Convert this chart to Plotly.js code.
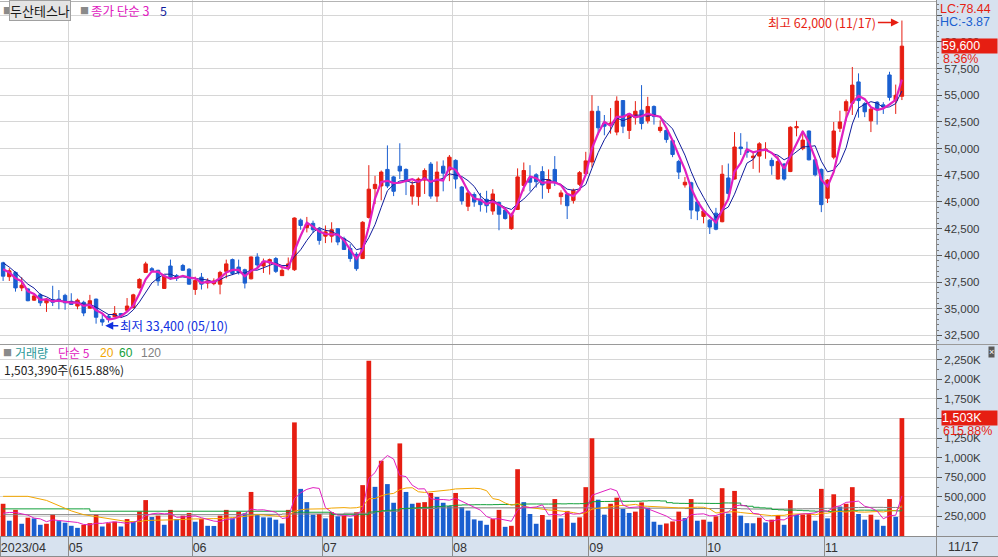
<!DOCTYPE html>
<html><head><meta charset="utf-8">
<script src="https://cdn.plot.ly/plotly-3.0.1.min.js"></script>
<style>html,body{margin:0;padding:0;background:#fff;}#chart{width:998px;height:557px;}</style>
</head><body><div id="chart"></div>
<script>
// ---- data ----
const stockName = '두산테스나';
const monthLabels = ['2023/04','05','06','07','08','09','10','11'];
const monthStart = [0,11,31,52,73,95,114,133];
const lastDateLabel = '11/17';
const hiDateLabel = '11/17';
const loDateLabel = '05/10';

const opens = [39300,38000,38400,36950,36850,35800,36300,35550,35850,35900,
36250,35700,35250,35600,35050,35900,34000,34300,34250,34550,
34850,35100,36950,38400,38750,38600,36900,39000,38100,39050,
38700,36800,37950,37400,37350,37300,38500,39600,38900,38650,
37800,39850,39000,39300,39700,38100,38800,38650,43300,42600,
43000,42450,41800,41800,42500,41550,40650,40100,39700,43550,
46250,46500,48050,47350,48350,48050,45550,45500,47050,48550,
45550,48350,48000,48900,46400,44600,45700,45250,45250,44150,
44950,44250,42500,44300,46550,47250,47550,47850,46250,48050,
45500,45700,45150,46650,47650,48750,53500,52400,52250,51550,
54500,51700,52900,53600,52600,53950,51700,51700,50750,48800,
46600,46800,45000,43650,43300,43950,43150,47250,47150,50150,
49850,49150,49300,49850,48900,47150,48550,47850,51950,50000,
51650,48950,48050,45350,49200,51900,53550,54250,56250,54200,
52600,54350,54100,56900,54500,54900];
const highs = [39400,38800,38500,37950,36950,36450,36450,36000,37150,36750,
36400,36450,35950,35750,36300,35950,34500,34500,35250,34600,
36000,36400,37850,39400,38900,38650,38100,39600,38250,39200,
38800,38000,38350,37850,37850,38550,39600,39700,39600,38750,
39900,40200,39700,39700,39850,38800,39800,43550,43450,43600,
43250,42600,42800,43100,42500,41750,41050,40300,43200,48450,
47450,47950,50300,47450,50500,48150,46950,47300,48150,48750,
48800,48900,49400,49000,46500,46050,45900,45850,46050,46200,
45050,44400,44000,48150,48700,48450,47700,48350,48050,49300,
46100,45800,46250,47900,49700,55000,54000,53150,53800,54900,
54550,53300,54450,55950,54850,54050,52650,51900,50900,48950,
47350,46900,45100,44350,43400,44450,48450,48600,51550,51450,
50650,49700,50600,50600,49150,49300,48650,52100,52600,51700,
51700,49050,48150,47150,52500,53550,54600,57650,57050,54350,
53850,54450,54350,57200,56000,62000];
const lows = [37600,37600,36600,36650,35700,35750,35250,34700,35250,34950,
34900,35350,34950,34300,35000,33600,33400,33700,34200,34300,
34800,35050,36900,38350,38400,37150,36900,37700,37600,38550,
37250,36300,36800,36900,37200,36350,37850,38150,38200,36900,
37750,38700,38350,38200,38350,38100,38600,38550,42400,42150,
42100,41000,41150,41200,40950,40500,39400,38550,39650,43450,
44800,45150,46300,45550,47150,45650,44750,44650,45750,45300,
45000,46000,46950,46250,44750,44150,44550,44100,44000,43800,
42350,43350,42400,44250,46000,46000,46350,45300,45850,46500,
44750,43400,44850,46500,47500,48250,51300,51250,51400,51250,
51450,50900,52250,51800,52350,52250,51500,50550,49200,47150,
46350,43400,43300,43000,42000,42350,43100,45250,47100,49400,
49150,48100,47750,49050,47550,47100,47000,47800,51150,49850,
48900,47400,44050,44900,49000,51550,52600,53150,52900,52950,
51550,52250,53250,54500,53250,54550];
const closes = [38050,38550,36950,37200,35750,36200,35550,35900,35600,35750,
35550,35400,35800,34600,35750,34200,33750,34000,34550,34350,
35250,36300,37750,39200,38550,37600,38050,37800,37850,38600,
37300,37650,37300,37600,37600,38400,39200,38300,38400,37400,
39850,39100,39400,39600,38500,38600,39200,43500,42800,42900,
42400,41400,42200,42400,41250,40550,39700,38750,43100,46200,
46650,47800,46500,46000,47900,46950,46550,47150,47950,45550,
47800,47700,49200,47150,45100,45850,45000,44750,44650,45750,
43850,43450,43800,47350,47950,46850,46900,46600,47100,46800,
45850,44650,46100,47750,48850,53500,51950,52100,52400,54450,
52100,53250,53500,52350,53950,53000,52000,50850,49450,47800,
46850,44250,44150,44150,42650,42450,47600,45800,50150,50000,
49650,49300,50450,49950,48400,48800,47150,52000,52050,50800,
48950,47550,44750,47050,51650,52500,54400,55950,54500,53450,
53700,53700,53900,54800,55000,59600];
const volumes = [411000,195000,333000,156000,234000,225000,143000,156000,272000,190000,
169000,130000,104000,143000,164000,272000,121000,164000,182000,121000,
216000,186000,311000,458000,242000,260000,143000,333000,216000,260000,
294000,182000,216000,130000,128000,260000,333000,225000,311000,290000,
562000,272000,238000,236000,208000,160000,333000,1449000,601000,432000,
272000,281000,225000,303000,251000,260000,225000,303000,649000,2236000,
627000,960000,662000,424000,1181000,562000,411000,424000,432000,549000,
497000,424000,381000,549000,368000,324000,212000,195000,143000,216000,
333000,117000,130000,852000,432000,281000,156000,268000,208000,471000,
225000,320000,169000,238000,623000,1246000,463000,272000,411000,489000,
346000,294000,311000,428000,359000,182000,143000,160000,186000,311000,
229000,471000,195000,208000,182000,251000,610000,285000,575000,260000,
164000,162000,234000,173000,208000,268000,143000,458000,270000,275000,
280000,195000,601000,225000,532000,376000,411000,623000,281000,208000,
272000,208000,130000,471000,244105,1503390];

// moving-average values before a full window exists
const ma3EarlyIdx = [0,1];            const ma3EarlyVal = [38700,38400];
const ma5EarlyIdx = [0,1,2,3];        const ma5EarlyVal = [39300,38900,38400,37800];
const vma5EarlyIdx = [0,1,2,3];       const vma5EarlyVal = [290000,300000,300000,285000];
const vma20EarlyIdx = [0,4,7,9,11,13,15,17];
const vma20EarlyVal = [506000,506000,454000,389000,320000,272000,245000,225000];
const vma60EarlyIdx = [0,13,14,38,44,47,53,57];
const vma60EarlyVal = [346000,346000,316000,316000,316000,303000,272000,272000];
const vma120EarlyIdx = [0,38,45,55,60,64,70,80,95,110];
const vma120EarlyVal = [272000,276000,281000,290000,316000,350000,359000,359000,355000,350000];

// ---- styles ----
const RED = '#e61e12', BLUE = '#1a5fd0';
const MAG = '#e020c0', NAVY = '#101c9c', ORANGE = '#f2a600', GREEN = '#12a03a', GRAY = '#808080';
const GRID = '#d6d6d6', AXLINE = '#8c8c8c', STRIP = '#d7e2ef';
const NUMFONT = 'Liberation Sans, Arial, sans-serif';
const KRFONT = 'Noto Sans CJK KR, Noto Sans, sans-serif';

const idx = closes.map((_, i) => i);
function ma(arr, n, eIdx, eVal) {
  const xs = eIdx.slice(), ys = eVal.slice();
  for (let i = n - 1; i < arr.length; i++) {
    let s = 0; for (let k = i - n + 1; k <= i; k++) s += arr[k];
    xs.push(i); ys.push(s / n);
  }
  return {x: xs, y: ys};
}
const fmt = v => Math.round(v).toLocaleString('en-US');

const m3 = ma(closes, 3, ma3EarlyIdx, ma3EarlyVal);
const m5 = ma(closes, 5, ma5EarlyIdx, ma5EarlyVal);
const vm5 = ma(volumes, 5, vma5EarlyIdx, vma5EarlyVal);
const vm20 = ma(volumes, 20, vma20EarlyIdx, vma20EarlyVal);
const vm60 = ma(volumes, 60, vma60EarlyIdx, vma60EarlyVal);
const vm120 = ma(volumes, 120, vma120EarlyIdx, vma120EarlyVal);
const volColors = volumes.map((v, i) => (i === 0 || v >= volumes[i - 1]) ? RED : BLUE);

const traces = [
  {type: 'candlestick', x: idx, open: opens, high: highs, low: lows, close: closes,
   xaxis: 'x2', yaxis: 'y', whiskerwidth: 0, hoverinfo: 'skip',
   increasing: {line: {color: RED, width: 1}, fillcolor: RED},
   decreasing: {line: {color: BLUE, width: 1}, fillcolor: BLUE}},
  {type: 'scatter', mode: 'lines', x: m5.x, y: m5.y, xaxis: 'x2', yaxis: 'y', line: {color: NAVY, width: 1}, hoverinfo: 'skip'},
  {type: 'scatter', mode: 'lines', x: m3.x, y: m3.y, xaxis: 'x2', yaxis: 'y', line: {color: MAG, width: 2.2}, hoverinfo: 'skip'},
  {type: 'bar', x: idx, y: volumes, xaxis: 'x', yaxis: 'y2', marker: {color: volColors, line: {width: 0}}, hoverinfo: 'skip'},
  {type: 'scatter', mode: 'lines', x: vm120.x, y: vm120.y, xaxis: 'x', yaxis: 'y2', line: {color: GRAY, width: 1, shape: 'hv'}, hoverinfo: 'skip'},
  {type: 'scatter', mode: 'lines', x: vm60.x, y: vm60.y, xaxis: 'x', yaxis: 'y2', line: {color: GREEN, width: 1, shape: 'hv'}, hoverinfo: 'skip'},
  {type: 'scatter', mode: 'lines', x: vm20.x, y: vm20.y, xaxis: 'x', yaxis: 'y2', line: {color: ORANGE, width: 1}, hoverinfo: 'skip'},
  {type: 'scatter', mode: 'lines', x: vm5.x, y: vm5.y, xaxis: 'x', yaxis: 'y2', line: {color: MAG, width: 1}, hoverinfo: 'skip'}
];

// ---- layout geometry ----
const PW = 936, PH = 536;
const px = v => v / PW;
const py = v => (PH - v) / PH;
const tickX = monthStart.map(i => i === 0 ? -0.45 : i - 0.5);
const priceTicks = [], priceText = [];
for (let v = 32500; v <= 62500; v += 2500) { priceTicks.push(v); priceText.push(v === 62500 ? '' : fmt(v)); }
const volTicks = [250000,500000,750000,1000000,1250000,1500000,1750000,2000000,2250000];
const volText = volTicks.map(v => v === 1500000 ? '' : (v >= 1000000 ? fmt(v / 1000) + 'K' : fmt(v)));

const last = closes.length - 1;
const lastC = closes[last], prevC = closes[last - 1];
const lastV = volumes[last], prevV = volumes[last - 1];
const maxH = Math.max(...highs), minL = Math.min(...lows);
const hiI = highs.indexOf(maxH), loI = lows.indexOf(minL);
const pct = (lastC / prevC - 1) * 100;
const vpct = lastV / prevV * 100;
const LC = (lastC / minL - 1) * 100, HC = (lastC / maxH - 1) * 100;

const ann = [];
function txt(x, y, text, color, size, font, extra) {
  ann.push(Object.assign({xref: 'paper', yref: 'paper', x: px(x), y: py(y), text: text, showarrow: false,
    xanchor: 'left', yanchor: 'middle', font: {family: font || KRFONT, size: size || 12, color: color}}, extra || {}));
}
// price legend
txt(1, 10, '■', '#8a8a8a', 9);
txt(9, 10, stockName, '#1a1a1a', 13, KRFONT, {bgcolor: '#e4e4e4', bordercolor: '#a0a0a0', borderwidth: 1, borderpad: 0});
txt(78, 10, '■', '#8a8a8a', 9);
txt(89, 10, '종가 단순 3', MAG, 12.5);
txt(158, 10, '5', NAVY, 12.5);
// volume legend
txt(1, 353, '■', '#8a8a8a', 9);
txt(13, 353, '거래량', '#2a9898', 12);
txt(56, 353, '단순 5', MAG, 12);
txt(98, 353, '20', ORANGE, 12, NUMFONT);
txt(117, 353, '60', GREEN, 12, NUMFONT);
txt(139, 353, '120', GRAY, 12, NUMFONT);
txt(2, 369, fmt(lastV) + '주(' + vpct.toFixed(2) + '%)', '#222', 12);
// right strip texts
txt(938, 9, 'LC:' + LC.toFixed(2), RED, 12.5, NUMFONT);
txt(938, 22, 'HC:' + HC.toFixed(2), BLUE, 12.5, NUMFONT);
txt(988, 352, '×', '#ffffff', 9, NUMFONT, {bgcolor: '#5a5a5a', borderpad: 0});
ann.push({xref: 'paper', yref: 'y', x: px(941), y: lastC, text: fmt(lastC), showarrow: false, xanchor: 'left', yanchor: 'middle',
  align: 'left', width: 55, bgcolor: RED, borderpad: 0, font: {family: NUMFONT, size: 12.5, color: '#fff'}});
ann.push({xref: 'paper', yref: 'y', x: px(941), y: lastC, yshift: -13, text: pct.toFixed(2) + '%', showarrow: false, xanchor: 'left', yanchor: 'middle',
  font: {family: NUMFONT, size: 12.5, color: RED}});
ann.push({xref: 'paper', yref: 'y2', x: px(941), y: lastV, text: fmt(lastV / 1000) + 'K', showarrow: false, xanchor: 'left', yanchor: 'middle',
  align: 'left', width: 55, bgcolor: RED, borderpad: 0, font: {family: NUMFONT, size: 12.5, color: '#fff'}});
ann.push({xref: 'paper', yref: 'y2', x: px(941), y: lastV, yshift: -13, text: vpct.toFixed(2) + '%', showarrow: false, xanchor: 'left', yanchor: 'middle',
  font: {family: NUMFONT, size: 12.5, color: RED}});
txt(946, 547, lastDateLabel, '#333', 12.5, NUMFONT);
// extreme markers
ann.push({xref: 'x2', yref: 'y', x: hiI, y: maxH, text: '최고 ' + fmt(maxH) + ' (' + hiDateLabel + ')', showarrow: true,
  ax: -24, ay: 0, yshift: -2, xanchor: 'right', arrowhead: 2, arrowsize: 1, arrowwidth: 1.6, arrowcolor: RED, standoff: 3,
  font: {family: KRFONT, size: 12.5, color: RED}});
ann.push({xref: 'x2', yref: 'y', x: loI, y: minL, yshift: 0, text: '최저 ' + fmt(minL) + ' (' + loDateLabel + ')', showarrow: true,
  ax: 16, ay: 0, xanchor: 'left', arrowhead: 2, arrowsize: 1, arrowwidth: 1.6, arrowcolor: '#1030e0', standoff: 3,
  font: {family: KRFONT, size: 12.5, color: '#1030e0'}});

const shapes = [
  {type: 'line', xref: 'paper', yref: 'paper', x0: 0, x1: px(998), y0: py(344.5), y1: py(344.5), line: {color: '#9a9a9a', width: 1}},
  {type: 'line', xref: 'paper', yref: 'paper', x0: 0, x1: px(998), y0: py(536.5), y1: py(536.5), line: {color: AXLINE, width: 1}},
  {type: 'line', xref: 'paper', yref: 'paper', x0: 0, x1: px(998), y0: py(556.5), y1: py(556.5), line: {color: AXLINE, width: 1}},
  {type: 'line', xref: 'paper', yref: 'paper', x0: px(936.5), x1: px(936.5), y0: py(0), y1: py(557), line: {color: AXLINE, width: 1}},
  {type: 'line', xref: 'paper', yref: 'paper', x0: 0, x1: px(936), y0: py(1.5), y1: py(1.5), line: {color: '#b4b4b4', width: 1}}
];

const layout = {
  width: 998, height: 557,
  margin: {l: 0, r: 62, t: 0, b: 21, pad: 0},
  paper_bgcolor: STRIP, plot_bgcolor: '#ffffff',
  showlegend: false, dragmode: false, hovermode: false,
  boxgap: 0.22, bargap: 0.24,
  xaxis: {domain: [0, 1], anchor: 'y2', range: [-0.5, 150.5], tickmode: 'array', tickvals: tickX, ticktext: monthLabels,
    ticks: 'outside', ticklen: 20, tickcolor: AXLINE, tickwidth: 1, ticklabelposition: 'outside right',
    tickfont: {family: NUMFONT, size: 12.5, color: '#333'},
    showgrid: true, gridcolor: GRID, gridwidth: 1, zeroline: false, showline: false, fixedrange: true},
  xaxis2: {domain: [0, 1], anchor: 'y', matches: 'x', range: [-0.5, 150.5], tickmode: 'array', tickvals: tickX,
    showticklabels: false, ticks: '', showgrid: true, gridcolor: GRID, gridwidth: 1, zeroline: false, showline: false,
    rangeslider: {visible: false}, fixedrange: true},
  yaxis: {domain: [py(344), 1], anchor: 'x2', side: 'right',
    range: [62500 - (344 - 15.2) * 93.69, 62500 + 15.2 * 93.69],
    autorange: false, tickmode: 'array', tickvals: priceTicks, ticktext: priceText,
    ticks: 'outside', ticklen: 5, tickcolor: '#555', tickfont: {family: NUMFONT, size: 11.5, color: '#3a3a3a'},
    minor: {tickmode: 'linear', tick0: 0, dtick: 500, ticks: 'outside', ticklen: 2, tickcolor: '#777', showgrid: false},
    showgrid: true, gridcolor: GRID, zeroline: false, showline: false, fixedrange: true},
  yaxis2: {domain: [0, py(345)], anchor: 'x', side: 'right', range: [0, 191 * 12755],
    tickmode: 'array', tickvals: volTicks, ticktext: volText,
    ticks: 'outside', ticklen: 5, tickcolor: '#555', tickfont: {family: NUMFONT, size: 11.5, color: '#3a3a3a'},
    minor: {tickmode: 'linear', tick0: 0, dtick: 125000, ticks: 'outside', ticklen: 2, tickcolor: '#777', showgrid: false},
    showgrid: true, gridcolor: GRID, zeroline: false, showline: false, fixedrange: true},
  annotations: ann,
  shapes: shapes
};

Plotly.newPlot('chart', traces, layout, {displayModeBar: false, staticPlot: true});
</script></body></html>
